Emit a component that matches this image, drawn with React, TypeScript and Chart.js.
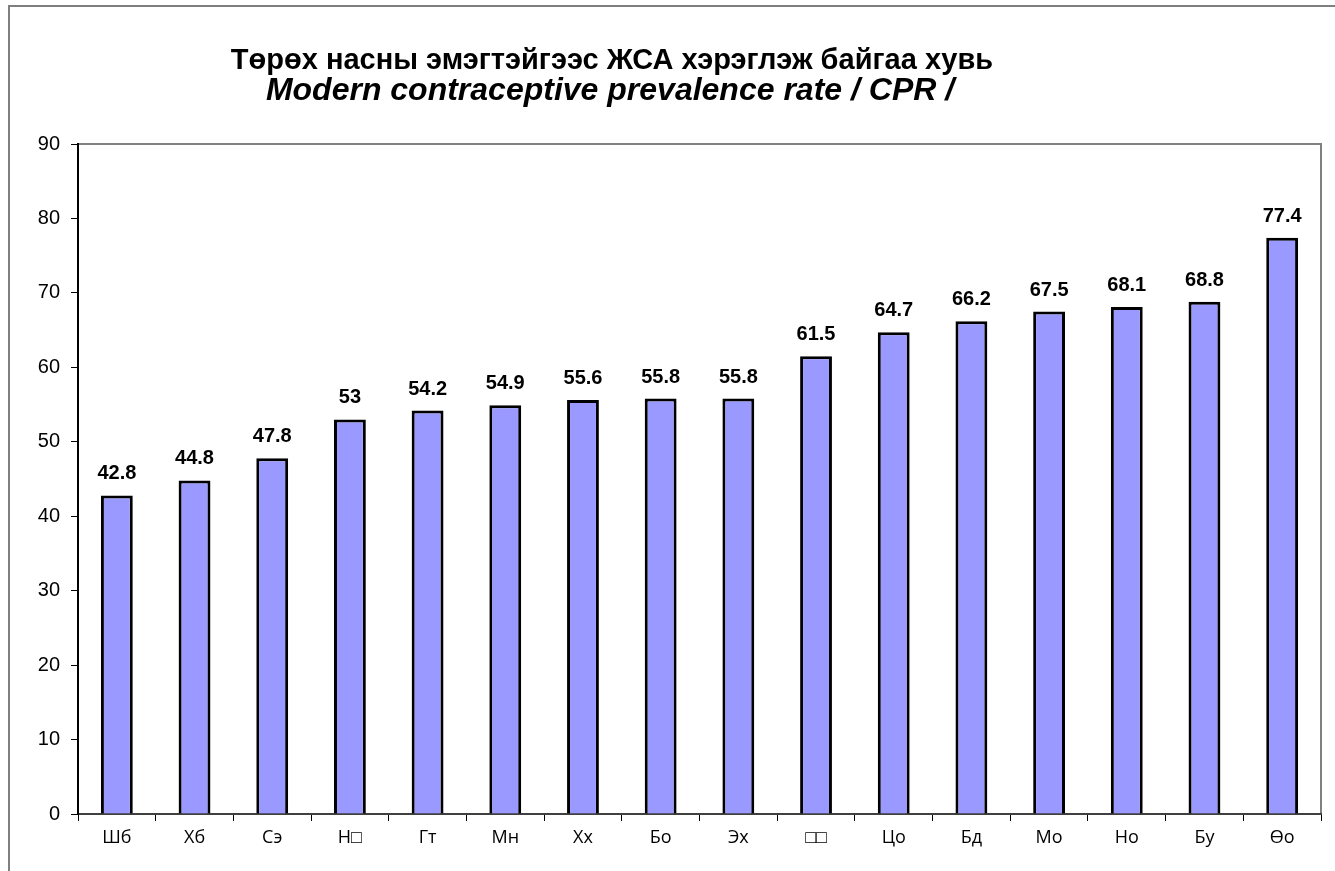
import React, { useEffect, useRef } from "react";
import { Chart, registerables } from "chart.js";

Chart.register(...registerables);

const categories = ["Шб", "Хб", "Сэ", "Н□", "Гт", "Мн", "Хх", "Бо", "Эх", "□□", "Цо", "Бд", "Мо", "Но", "Бу", "Өо"];
const values = [42.8, 44.8, 47.8, 53, 54.2, 54.9, 55.6, 55.8, 55.8, 61.5, 64.7, 66.2, 67.5, 68.1, 68.8, 77.4];
const valueLabels = ["42.8", "44.8", "47.8", "53", "54.2", "54.9", "55.6", "55.8", "55.8", "61.5", "64.7", "66.2", "67.5", "68.1", "68.8", "77.4"];
const titleLine1 = "Төрөх насны эмэгтэйгээс ЖСА хэрэглэж байгаа хувь";
const titleLine2 = "Modern contraceptive prevalence rate / CPR /";

const framePlugin = {
  id: "frame",
  beforeDraw(chart: any) {
    const { ctx, width, height, chartArea } = chart;
    ctx.save();
    ctx.fillStyle = "#ffffff";
    ctx.fillRect(0, 0, width, height);
    // outer frame
    ctx.strokeStyle = "#7f7f7f";
    ctx.lineWidth = 2;
    ctx.beginPath();
    ctx.moveTo(9, height);
    ctx.lineTo(9, 6);
    ctx.lineTo(width, 6);
    ctx.stroke();
    // plot area top/right border
    ctx.strokeStyle = "#808080";
    ctx.lineWidth = 2;
    ctx.beginPath();
    ctx.moveTo(chartArea.left, chartArea.top);
    ctx.lineTo(chartArea.right, chartArea.top);
    ctx.lineTo(chartArea.right, chartArea.bottom);
    ctx.stroke();
    // title
    ctx.fillStyle = "#000000";
    ctx.textAlign = "center";
    ctx.textBaseline = "middle";
    ctx.font = "bold 29px 'Liberation Sans', Arial, sans-serif";
    ctx.fillText(titleLine1, 612, 61);
    ctx.font = "italic bold 32px 'Liberation Sans', Arial, sans-serif";
    ctx.fillText(titleLine2, 610, 91);
    ctx.restore();
  },
  afterDatasetsDraw(chart: any) {
    const { ctx } = chart;
    const meta = chart.getDatasetMeta(0);
    ctx.save();
    ctx.fillStyle = "#000000";
    ctx.textAlign = "center";
    ctx.textBaseline = "alphabetic";
    ctx.font = "bold 20px 'Liberation Sans', Arial, sans-serif";
    meta.data.forEach((bar: any, i: number) => {
      ctx.fillText(valueLabels[i], bar.x, bar.y - 16);
    });
    ctx.restore();
  },
};

export default function App() {
  const ref = useRef<HTMLCanvasElement>(null);
  useEffect(() => {
    document.body.style.margin = "0";
    const chart = new Chart(ref.current!, {
      type: "bar",
      data: {
        labels: categories,
        datasets: [
          {
            data: values,
            backgroundColor: "#9999ff",
            borderColor: "#000000",
            borderWidth: 3,
            categoryPercentage: 1,
            barPercentage: 0.41,
          },
        ],
      },
      options: {
        animation: false,
        responsive: false,
        layout: { padding: { left: 0, top: 144, right: 14, bottom: 0 } },
        plugins: { legend: { display: false }, title: { display: false }, tooltip: { enabled: false } },
        scales: {
          x: {
            offset: true,
            grid: { display: true, drawOnChartArea: false, drawTicks: true, tickLength: 7, offset: true, color: "#000000", lineWidth: 1 },
            border: { display: true, color: "#404040", width: 2 },
            ticks: { color: "#000000", font: { family: "'Open Sans', sans-serif", size: 18 }, padding: 6, maxRotation: 0 },
            afterFit(scale: any) { scale.height = 57; },
          },
          y: {
            min: 0,
            max: 90,
            ticks: { stepSize: 10, color: "#000000", font: { family: "'Liberation Sans', Arial, sans-serif", size: 20 }, padding: 11 },
            grid: { display: true, drawOnChartArea: false, drawTicks: true, tickLength: 7, color: "#000000", lineWidth: 1 },
            border: { display: true, color: "#000000", width: 2 },
            afterFit(scale: any) { scale.width = 78; },
          },
        },
      },
      plugins: [framePlugin],
    } as any);
    return () => chart.destroy();
  }, []);
  return (
    <div style={{ position: "absolute", left: 0, top: 0, width: 1335, height: 871 }}>
      <canvas ref={ref} width={1335} height={871} style={{ display: "block", width: 1335, height: 871 }} />
    </div>
  );
}
